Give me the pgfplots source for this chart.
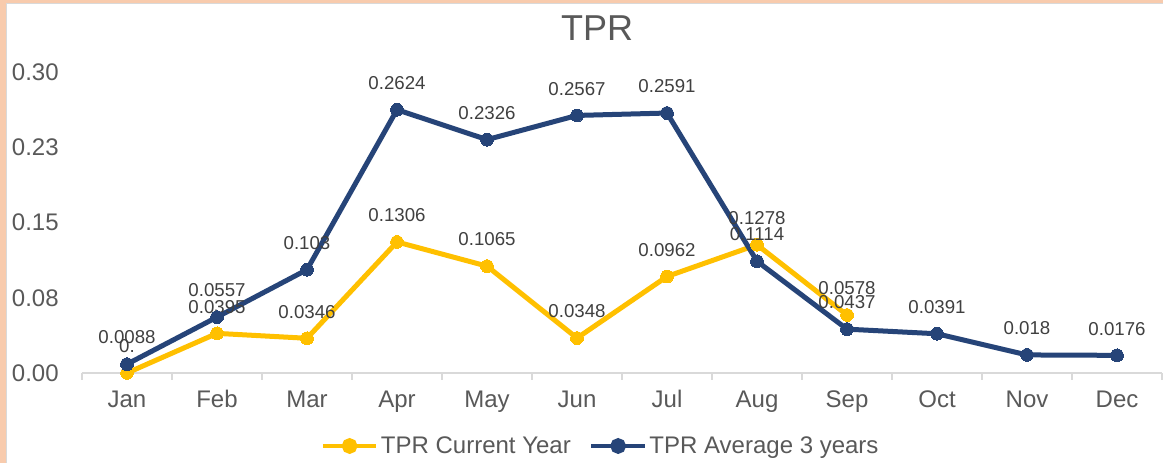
\documentclass[border=0pt]{standalone}
\usepackage{pgfplots}
\pgfplotsset{compat=1.18}
\usepackage{fontspec}
\setmainfont{Liberation Sans}
\definecolor{cy}{HTML}{FFC000}
\definecolor{cn}{HTML}{264478}
\definecolor{peach}{HTML}{F8CBAD}
\definecolor{tk}{HTML}{595959}
\definecolor{lb}{HTML}{404040}
\definecolor{axc}{HTML}{D9D9D9}
\begin{document}
\begin{tikzpicture}[x=0.75pt,y=0.75pt]
\useasboundingbox (-82,-90) rectangle (1081,373);
\fill[white] (-82,-90) rectangle (1081,373);
\fill[peach] (-82,-90) rectangle (-76,373);
\fill[peach] (-82,370) rectangle (1081,373);
\draw[axc, line width=1pt] (-75.5,-90) -- (-75.5,369.5) -- (1081,369.5);
\node[text=tk, font=\fontsize{27}{32}\selectfont] at (515,345) {TPR};
\begin{axis}[
  at={(0,0)}, anchor=south west, scale only axis,
  width=810pt, height=225.75pt,
  xmin=-0.5, xmax=11.5, ymin=0, ymax=0.3,
  clip=false,
  axis x line*=bottom, axis y line*=left,
  x axis line style={-, draw=axc, line width=1.5pt},
  y axis line style={draw=none},
  xtick={-0.5,0.5,...,11.5},
  x tick label as interval,
  xticklabels={Jan,Feb,Mar,Apr,May,Jun,Jul,Aug,Sep,Oct,Nov,Dec},
  major x tick style={draw=axc, line width=1.5pt},
  major tick length=5pt,
  tick align=outside,
  ytick={0,0.075,0.15,0.225,0.3},
  yticklabels={0.00,0.08,0.15,0.23,0.30},
  major y tick style={draw=none},
  ticklabel style={text=tk, font=\fontsize{18}{21}\selectfont},
  xticklabel style={yshift=-4pt, text height=13pt, text depth=4pt},
  yticklabel style={xshift=-9pt},
  nodes near coords,
  point meta=explicit symbolic,
  nodes near coords style={anchor=center, yshift=20pt, text=lb, font=\fontsize{14}{16}\selectfont},
  legend columns=2,
  legend style={draw=none, fill=none, at={(0.4806,-0.2425)}, anchor=center,
    font=\fontsize{18}{21}\selectfont, text=tk,
    /tikz/every even column/.append style={column sep=12pt}},
  legend image code/.code={\draw[#1, mark=none, line width=3pt] (0pt,0pt) -- (40pt,0pt); \fill[#1] (20pt,0pt) circle (4pt);},
]
\addplot[cy, line width=3.75pt, mark=*, mark size=4.8pt, mark options={fill=cy, draw=cy, line width=0pt}] table[meta=lab] {
x y lab
0 0 0.
1 0.0395 0.0395
2 0.0346 0.0346
3 0.1306 0.1306
4 0.1065 0.1065
5 0.0348 0.0348
6 0.0962 0.0962
7 0.1278 0.1278
8 0.0578 0.0578
};
\addlegendentry{TPR Current Year}
\addplot[cn, line width=3.75pt, mark=*, mark size=4.8pt, mark options={fill=cn, draw=cn, line width=0pt}] table[meta=lab] {
x y lab
0 0.0088 0.0088
1 0.0557 0.0557
2 0.103 0.103
3 0.2624 0.2624
4 0.2326 0.2326
5 0.2567 0.2567
6 0.2591 0.2591
7 0.1114 0.1114
8 0.0437 0.0437
9 0.0391 0.0391
10 0.018 0.018
11 0.0176 0.0176
};
\addlegendentry{TPR Average 3 years}
\end{axis}
\end{tikzpicture}
\end{document}
